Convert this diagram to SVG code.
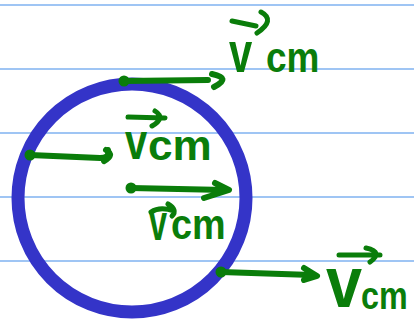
<svg xmlns="http://www.w3.org/2000/svg" width="414" height="322" viewBox="0 0 414 322">
<defs>
<style>
.rule{stroke:#7fb2f0;stroke-width:1.3}
.arr{stroke:#0a7d0a;stroke-width:6;fill:none;stroke-linecap:round;stroke-linejoin:round}
.vec{stroke:#0a7d0a;stroke-width:5;fill:none;stroke-linecap:round;stroke-linejoin:round}
.dot{fill:#0a7d0a}
.v{font-family:"Liberation Sans",Arial,sans-serif;font-weight:bold;fill:#0a7d0a}
</style>
</defs>
<rect width="414" height="322" fill="#fff"/>
<g id="rules">
<line class="rule" x1="0" y1="5" x2="414" y2="5"/>
<line class="rule" x1="0" y1="69" x2="414" y2="69"/>
<line class="rule" x1="0" y1="133" x2="414" y2="133"/>
<line class="rule" x1="0" y1="197" x2="414" y2="197"/>
<line class="rule" x1="0" y1="261" x2="414" y2="261"/>
</g>
<g id="wheel">
<circle cx="132" cy="198" r="114" fill="none" stroke="#3434c8" stroke-width="13"/>
</g>
<g id="connectors">
<circle class="dot" cx="124" cy="81" r="5.5"/>
<path class="arr" d="M124 81 L208 80 M212 74 Q232 78 214 87"/>
<circle class="dot" cx="30" cy="155" r="5.5"/>
<path class="arr" d="M30 155 L100 158 Q110 158 108 150 M106 150 Q115 155 104 161"/>
<circle class="dot" cx="131" cy="188" r="5.5"/>
<path class="arr" d="M131 188 L225 190 M215 183 L229 190 L204 198"/>
<circle class="dot" cx="221" cy="272" r="5.5"/>
<path class="arr" d="M221 272 L312 275 M304 268 L317 276 L304 280"/>
</g>
<g id="label-top">
<text class="v" transform="translate(229,72) scale(0.72,1)" font-size="58">v</text>
<text class="v" transform="translate(266,72) scale(0.88,1)" font-size="42">cm</text>
<path class="vec" d="M232 21 L256 26 M261 12 Q276 20 257 33"/>
</g>
<g id="label-left">
<text class="v" transform="translate(125,159) scale(0.8,1)" font-size="50">v</text>
<text class="v" transform="translate(148,160) scale(1.05,1)" font-size="42">cm</text>
<path class="vec" d="M128 117 L165 118 M155 111 Q166 118 152 126"/>
</g>
<g id="label-middle">
<text class="v" transform="translate(149,240) scale(0.65,1)" font-size="50">v</text>
<text class="v" transform="translate(171,239) scale(0.9,1)" font-size="42">cm</text>
<path class="vec" d="M151 212 Q160 206 174 211 M168 204 Q178 210 172 216"/>
</g>
<g id="label-bottom">
<text class="v" transform="translate(326,307) scale(0.9,1)" font-size="72">v</text>
<text class="v" transform="translate(361,309) scale(0.85,1)" font-size="38">cm</text>
<path class="vec" d="M339 255 L380 255 M366 248 Q384 252 370 262"/>
</g>
</svg>
